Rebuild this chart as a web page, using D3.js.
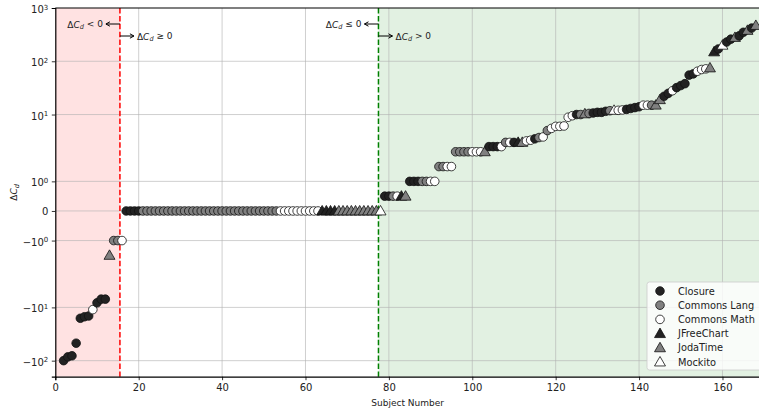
<!DOCTYPE html>
<html>
<head>
<meta charset="utf-8">
<script src="https://cdn.jsdelivr.net/npm/d3@7"></script>
<style>
body { margin: 0; background: #fff; }
text { font-family: "DejaVu Sans", sans-serif; fill: #222; }
</style>
</head>
<body>
<svg id="chart" width="759" height="415"></svg>
<script>
var projects = ["Closure", "Commons Lang", "Commons Math", "JFreeChart", "JodaTime", "Mockito"];
var firstSubject = 2;
// delta C_d per subject, sorted; ten subjects per line starting at subject 2
var deltaCd = [
    -100, -85, -81, -47, -16, -15, -14.5, -11, -8.2, -7,     // 2-11
    -7, -1.5, -1, -1, -1, 0, 0, 0, 0, 0,                      // 12-21
    0, 0, 0, 0, 0, 0, 0, 0, 0, 0,                             // 22-31
    0, 0, 0, 0, 0, 0, 0, 0, 0, 0,                             // 32-41
    0, 0, 0, 0, 0, 0, 0, 0, 0, 0,                             // 42-51
    0, 0, 0, 0, 0, 0, 0, 0, 0, 0,                             // 52-61
    0, 0, 0, 0, 0, 0, 0, 0, 0, 0,                             // 62-71
    0, 0, 0, 0, 0, 0, 0, 0.5, 0.5, 0.5,                       // 72-81
    0.5, 0.5, 0.5, 1, 1, 1, 1, 1, 1, 1,                       // 82-91
    1.5, 1.5, 1.5, 1.5, 2, 2, 2, 2, 2, 2,                     // 92-101
    2, 2, 2.5, 2.5, 2.5, 2.5, 3, 3, 3, 3,                     // 102-111
    3, 3.2, 3.3, 3.5, 3.7, 3.8, 5, 5.5, 6, 6,                 // 112-121
    6.1, 8.9, 9.5, 10, 10, 10.3, 10.5, 10.7, 11, 11,          // 122-131
    11.5, 11.8, 12, 12, 12.2, 12.5, 13, 13.5, 14, 15,         // 132-141
    15, 15, 15, 19, 22, 25, 28, 32, 35, 38,                   // 142-151
    55, 58, 65, 70, 72, 75, 150, 170, 200, 230,               // 152-161
    260, 280, 300, 350, 380, 420, 470                         // 162-168
];
// project index per subject (0 Closure, 1 Lang, 2 Math, 3 JFreeChart, 4 JodaTime, 5 Mockito)
var projectIdx = [
    0, 0, 0, 0, 0, 0, 0, 2, 0, 0,
    0, 4, 1, 1, 2, 0, 0, 0, 0, 1,
    1, 1, 1, 1, 1, 1, 1, 1, 1, 1,
    1, 1, 1, 1, 1, 1, 1, 1, 1, 1,
    1, 1, 1, 1, 1, 1, 1, 1, 1, 1,
    1, 1, 2, 2, 2, 2, 2, 2, 2, 2,
    2, 2, 3, 3, 3, 3, 4, 4, 4, 4,
    4, 4, 4, 4, 4, 4, 5, 0, 0, 1,
    2, 3, 4, 0, 0, 0, 1, 1, 2, 2,
    1, 1, 2, 2, 1, 1, 1, 1, 2, 2,
    2, 4, 0, 0, 0, 2, 1, 2, 0, 3,
    4, 2, 2, 0, 1, 2, 1, 2, 2, 2,
    2, 2, 2, 0, 1, 4, 1, 0, 0, 0,
    0, 1, 5, 2, 2, 0, 0, 0, 0, 2,
    2, 1, 4, 4, 0, 0, 2, 0, 0, 0,
    0, 0, 2, 2, 2, 4, 3, 0, 5, 0,
    0, 4, 0, 0, 4, 0, 4
];
var xTicks = [0, 20, 40, 60, 80, 100, 120, 140, 160];
var yTicks = [-100, -10, -1, 0, 1, 10, 100, 1000];
var yTickLabels = [["\u221210", "2"], ["\u221210", "1"], ["\u221210", "0"], ["0", ""], ["10", "0"], ["10", "1"], ["10", "2"], ["10", "3"]];
var negBoundary = 15.5, posBoundary = 77.5;

var fills = ["#222222", "#808080", "#ffffff", "#222222", "#808080", "#ffffff"];
var isTri = [false, false, false, true, true, true];

// symlog, linthresh 2, linscale 1
var linthresh = 2, linAdj = 1 / (1 - 1 / 10);
function symlog(v) {
    var a = Math.abs(v);
    if (a <= linthresh) return v * linAdj;
    return Math.sign(v) * linthresh * (linAdj + Math.log10(a / linthresh));
}

var svg = d3.select("#chart");
var pLeft = 55.3, pRight = 760, pTop = 8, pBottom = 376.7;

var x = d3.scaleLinear().domain([0, 169]).range([pLeft, pRight]);
var y = d3.scaleLinear().domain([symlog(-200), symlog(1000)]).range([pBottom, pTop]);

var points = deltaCd.map(function(v, i) { return { s: firstSubject + i, v: v, p: projectIdx[i] }; });

// shaded regions
svg.append("rect")
    .attr("x", x(0)).attr("y", pTop)
    .attr("width", x(negBoundary) - x(0)).attr("height", pBottom - pTop)
    .attr("fill", "#ff0000").attr("fill-opacity", 0.115);
svg.append("rect")
    .attr("x", x(posBoundary)).attr("y", pTop)
    .attr("width", x(169) - x(posBoundary)).attr("height", pBottom - pTop)
    .attr("fill", "#008000").attr("fill-opacity", 0.115);

// grid
svg.append("g").selectAll("line").data(xTicks.slice(1)).enter().append("line")
    .attr("x1", function(d) { return x(d); }).attr("x2", function(d) { return x(d); })
    .attr("y1", pTop).attr("y2", pBottom)
    .attr("stroke", "#b0b0b0").attr("stroke-opacity", 0.6).attr("stroke-width", 1);
svg.append("g").selectAll("line").data(yTicks.slice(0, -1)).enter().append("line")
    .attr("x1", pLeft).attr("x2", pRight)
    .attr("y1", function(d) { return y(symlog(d)); }).attr("y2", function(d) { return y(symlog(d)); })
    .attr("stroke", "#b0b0b0").attr("stroke-opacity", 0.6).attr("stroke-width", 1);

// boundary lines
svg.append("line")
    .attr("x1", x(negBoundary)).attr("x2", x(negBoundary)).attr("y1", pTop).attr("y2", pBottom)
    .attr("stroke", "#ff0000").attr("stroke-width", 1.5).attr("stroke-dasharray", "5.5,2.4");
svg.append("line")
    .attr("x1", x(posBoundary)).attr("x2", x(posBoundary)).attr("y1", pTop).attr("y2", pBottom)
    .attr("stroke", "#008000").attr("stroke-width", 1.5).attr("stroke-dasharray", "5.5,2.4");

// points
var tri = d3.symbol().type(d3.symbolTriangle).size(52);
var marks = svg.append("g");
points.forEach(function(d) {
    if (isTri[d.p]) {
        marks.append("path")
            .attr("d", tri)
            .attr("transform", "translate(" + x(d.s) + "," + (y(symlog(d.v)) + 0.8) + ")")
            .attr("fill", fills[d.p]).attr("stroke", "#111").attr("stroke-width", 0.8);
    } else {
        marks.append("circle")
            .attr("cx", x(d.s)).attr("cy", y(symlog(d.v))).attr("r", 4.3)
            .attr("fill", fills[d.p]).attr("stroke", "#111").attr("stroke-width", 0.8);
    }
});

// axes
var xAxis = d3.axisBottom(x).tickValues(xTicks).tickSize(3.5).tickPadding(3.5);
var gx = svg.append("g").attr("transform", "translate(0," + pBottom + ")").call(xAxis);
gx.selectAll("text").attr("font-size", 10).attr("fill", "#222");

var yAxis = d3.axisLeft(y).tickValues(yTicks.map(symlog)).tickSize(3.5).tickPadding(3.5).tickFormat("");
var gy = svg.append("g").attr("transform", "translate(" + pLeft + ",0)").call(yAxis);
gy.selectAll(".tick text").each(function(d, i) {
    var t = d3.select(this).attr("font-size", 10).attr("fill", "#222");
    t.append("tspan").text(yTickLabels[i][0]);
    if (yTickLabels[i][1]) {
        t.append("tspan").attr("dy", "-0.5em").attr("font-size", 7).text(yTickLabels[i][1]);
        t.attr("dy", "0.45em");
    }
});
[gx, gy].forEach(function(g) {
    g.select(".domain").attr("stroke", "#000").attr("stroke-width", 1.2);
    g.selectAll(".tick line").attr("stroke", "#000").attr("stroke-width", 0.8);
});
svg.append("line").attr("x1", pLeft).attr("x2", pRight).attr("y1", pTop).attr("y2", pTop)
    .attr("stroke", "#000").attr("stroke-width", 1.2);

// axis labels
svg.append("text").attr("x", (pLeft + pRight) / 2).attr("y", 406)
    .attr("text-anchor", "middle").attr("font-size", 9).text("Subject Number");
var yl = svg.append("text").attr("transform", "translate(17," + ((pTop + pBottom) / 2) + ") rotate(-90)")
    .attr("text-anchor", "middle").attr("font-size", 9);
yl.append("tspan").text("\u0394");
yl.append("tspan").attr("font-style", "italic").text("C");
yl.append("tspan").attr("font-style", "italic").attr("font-size", 6.5).attr("dy", "0.3em").text("d");

// annotations
function deltaLabel(px, py, rel, anchor) {
    var t = svg.append("text").attr("x", px).attr("y", py).attr("font-size", 9).attr("text-anchor", anchor);
    t.append("tspan").text("\u0394");
    t.append("tspan").attr("font-style", "italic").text("C");
    t.append("tspan").attr("font-style", "italic").attr("font-size", 6.5).attr("dy", "0.3em").text("d");
    t.append("tspan").attr("dy", "-0.3em").text(" " + rel + " 0");
}
function arrow(x1, x2, py) {
    var dir = x2 > x1 ? 1 : -1;
    svg.append("line").attr("x1", x1).attr("x2", x2).attr("y1", py).attr("y2", py)
        .attr("stroke", "#000").attr("stroke-width", 1);
    svg.append("path")
        .attr("d", "M" + (x2 - dir * 4) + "," + (py - 2.2) + "L" + x2 + "," + py + "L" + (x2 - dir * 4) + "," + (py + 2.2))
        .attr("fill", "none").attr("stroke", "#000").attr("stroke-width", 1);
}
arrow(x(negBoundary), x(negBoundary) - 14, 24);
deltaLabel(x(negBoundary) - 17, 27.5, "<", "end");
arrow(x(negBoundary), x(negBoundary) + 14, 36);
deltaLabel(x(negBoundary) + 17, 39.5, "\u2265", "start");
arrow(x(posBoundary), x(posBoundary) - 14, 24);
deltaLabel(x(posBoundary) - 17, 27.5, "\u2264", "end");
arrow(x(posBoundary), x(posBoundary) + 14, 36);
deltaLabel(x(posBoundary) + 17, 39.5, ">", "start");

// legend
var lg = svg.append("g").attr("transform", "translate(647,282)");
lg.append("rect").attr("x", 0).attr("y", 0).attr("width", 115).attr("height", 88).attr("rx", 2.5)
    .attr("fill", "#fff").attr("fill-opacity", 0.8).attr("stroke", "#cccccc").attr("stroke-width", 0.8);
projects.forEach(function(name, i) {
    var cy = 9 + i * 14.2;
    if (isTri[i]) {
        lg.append("path").attr("d", tri).attr("transform", "translate(13," + (cy + 0.8) + ")")
            .attr("fill", fills[i]).attr("stroke", "#111").attr("stroke-width", 0.8);
    } else {
        lg.append("circle").attr("cx", 13).attr("cy", cy).attr("r", 4.3)
            .attr("fill", fills[i]).attr("stroke", "#111").attr("stroke-width", 0.8);
    }
    lg.append("text").attr("x", 31).attr("y", cy + 3.5).attr("font-size", 9.8).text(name);
});
</script>
</body>
</html>
